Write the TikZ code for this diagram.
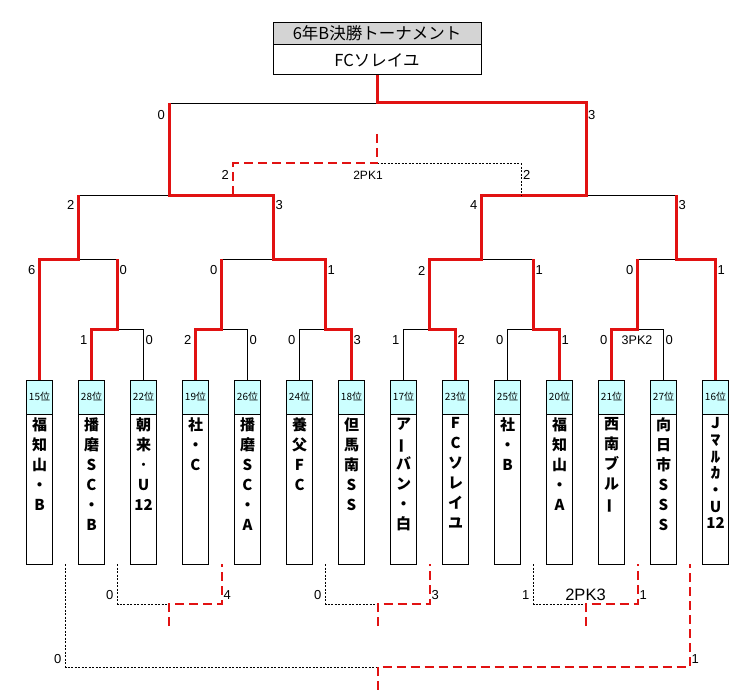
\documentclass[tikz,border=0pt]{standalone}
\usepackage{fontspec}
\usepackage{graphicx}
\setmainfont{Liberation Sans}
\newfontfamily\jp{Noto Sans CJK JP}
\usetikzlibrary{positioning}
\definecolor{winred}{RGB}{225,18,18}
\definecolor{rankcyan}{RGB}{204,255,255}
\definecolor{headgray}{RGB}{212,212,212}
\newcommand{\tbar}{\rotatebox[origin=c]{90}{ー}}
\newcommand{\hkana}[1]{\scalebox{1.3}[1]{#1}}

\begin{document}
\begin{tikzpicture}[x=1pt,y=-1pt,
  win/.style={winred,line width=3pt},
  lose/.style={black,line width=0.9pt},
  pkwin/.style={winred,line width=2pt,dash pattern=on 9pt off 5pt},
  pklose/.style={black,line width=0.7pt,dash pattern=on 2pt off 1.5pt},
  elbow/.style={to path={|- (\tikztotarget)}},
  titlehead/.style={draw,line width=0.8pt,fill=headgray,minimum width=208pt,minimum height=22pt,inner sep=0pt,font=\jp\fontsize{16.5}{16.5}\selectfont},
  titlebody/.style={draw,line width=0.8pt,minimum width=208pt,minimum height=30pt,inner sep=0pt,font=\jp\fontsize{16.5}{16.5}\selectfont},
  rankbox/.style={draw,line width=0.8pt,fill=rankcyan,minimum width=26pt,minimum height=34pt,inner sep=0pt,font=\jp\fontsize{10}{10}\selectfont},
  teambox/.style={draw,line width=0.8pt,minimum width=26pt,minimum height=150pt,inner sep=0pt},
  teamtext/.style={align=center,inner sep=0pt,font=\jp\bfseries\fontsize{15}{20}\selectfont},
  lscore/.style={anchor=east,inner sep=0pt,xshift=-4pt,font=\fontsize{13}{13}\selectfont},
  rscore/.style={anchor=west,inner sep=0pt,xshift=2pt,font=\fontsize{13}{13}\selectfont},
  pklabel/.style={inner sep=0pt,font=\fontsize{12}{12}\selectfont},
]
\useasboundingbox (0,0) rectangle (755,690);

% title
\node[titlehead] (head) at (377,33) {6年B決勝トーナメント};
\node[titlebody,below=0pt of head] (title) {FCソレイユ};

% teams
\foreach \i/\rank/\team in {
  1/15/{福\\知\\山\\・\\B},
  2/28/{播\\磨\\S\\C\\・\\B},
  3/22/{朝\\来\\･\\U\\12},
  4/19/{社\\・\\C},
  5/26/{播\\磨\\S\\C\\・\\A},
  6/24/{養\\父\\F\\C},
  7/18/{但\\馬\\南\\S\\S},
  8/17/{ア\\\tbar\\バ\\ン\\・\\白},
  9/23/{F\\C\\ソ\\レ\\イ\\ユ},
  10/25/{社\\・\\B},
  11/20/{福\\知\\山\\・\\A},
  12/21/{西\\南\\ブ\\ル\\\tbar},
  13/27/{向\\日\\市\\S\\S\\S},
  14/16/{J\\[-3.3pt]\hkana{ﾏ}\\[-3.3pt]\hkana{ﾙ}\\[-3.3pt]\hkana{ｶ}\\[-3.3pt]・\\[-3.3pt]U\\[-3.3pt]12}}{
  \node[rankbox] (h\i) at ({39.5+52*(\i-1)},397) {\rank 位};
  \node[teambox,below=0pt of h\i] (t\i) {};
  \node[teamtext,below=3pt of h\i.south] {\team};
  \coordinate (g\i) at ({65.5+52*(\i-1)},564);
}

% junctions
\foreach \n/\x in {1/117.5,2/221.5,3/325.5,4/429.5,5/533.5,6/637.5}
  \coordinate (r\n) at (\x,329);
\foreach \n/\x in {1/78.5,2/273.5,3/481.5,4/676.5}
  \coordinate (q\n) at (\x,259);
\coordinate (s1) at (169,195);
\coordinate (s2) at (586,195);
\coordinate (f) at (377,103);

\path[lose] (h3.north) edge[elbow] (r1)
            (h5.north) edge[elbow] (r2)
            (h6.north) edge[elbow] (r3)
            (h8.north) edge[elbow] (r4)
            (h10.north) edge[elbow] (r5)
            (h13.north) edge[elbow] (r6)
            (r1|-q1) edge (q1)
            (r2|-q2) edge (q2)
            (r5|-q3) edge (q3)
            (r6|-q4) edge (q4)
            (q1|-s1) edge (s1)
            (q4|-s2) edge (s2)
            (s1|-f) edge (f);

\draw[win] (title.south) -- (f) -| (s2) -| (q3) -| (r4) -| (h9.north);
\draw[win] (h7.north) |- (r3) |- (q2) |- (s1) -- (s1|-f);
\draw[win] (h1.north) |- (q1) -- (q1|-s1);
\draw[win] (h2.north) |- (r1) -- (r1|-q1);
\draw[win] (h4.north) |- (r2) -- (r2|-q2);
\draw[win] (h11.north) |- (r5) -- (r5|-q3);
\draw[win] (h12.north) |- (r6) -- (r6|-q4);
\draw[win] (h14.north) |- (q4) -- (q4|-s2);

% PK1
\coordinate (k) at (377,163.5);
\coordinate (ke) at (377,134);
\coordinate (kl) at (233,195);
\coordinate (kr) at (521,195);
\draw[pklose] (k) -| (kr);
\draw[pkwin] (ke) -- (k) -| (kl);

% lower places
\foreach \n/\x/\y in {1/169/604,2/377.5/604,3/585.5/604,4/377.5/667}
  \coordinate (p\n) at (\x,\y);
\foreach \n/\x/\y in {1/169/626,2/377.5/626,3/585.5/626,4/377.5/690}
  \coordinate (e\n) at (\x,\y);
\draw[pklose] (g2) |- (p1);
\draw[pklose] (g6) |- (p2);
\draw[pklose] (g10) |- (p3);
\draw[pklose] (g1) |- (p4);
\draw[pkwin] (e1) -- (p1) -| (g4);
\draw[pkwin] (e2) -- (p2) -| (g8);
\draw[pkwin] (e3) -- (p3) -| (g12);
\draw[pkwin] (e4) -- (p4) -| (g13);

% scores
\foreach \x/\s in {91.5/1,195.5/2,299.5/0,403.5/1,507.5/0,611.5/0}
  \node[lscore] at (\x,340) {\s};
\foreach \x/\s in {143.5/0,247.5/0,351.5/3,455.5/2,559.5/1,663.5/0}
  \node[rscore] at (\x,340) {\s};
\foreach \x/\s in {39.5/6,221.5/0,429.5/2,637.5/0}
  \node[lscore] at (\x,270.5) {\s};
\foreach \x/\s in {117.5/0,325.5/1,533.5/1,715.5/1}
  \node[rscore] at (\x,270.5) {\s};
\foreach \x/\s in {78.5/2,481.5/4}
  \node[lscore] at (\x,205) {\s};
\foreach \x/\s in {273.5/3,676.5/3}
  \node[rscore] at (\x,205) {\s};
\node[lscore] at (169,115) {0};
\node[rscore] at (586,115) {3};
\node[lscore] at (233,175) {2};
\node[rscore] at (521,175) {2};
\foreach \x/\s in {117.5/0,325.5/0,533.5/1}
  \node[lscore] at (\x,595) {\s};
\foreach \x/\s in {221.5/4,429.5/3,637.5/1}
  \node[rscore] at (\x,595) {\s};
\node[lscore] at (65.5,659.5) {0};
\node[rscore] at (689.5,659.5) {1};

\node[pklabel] at (368,175) {2PK1};
\node[pklabel,font=\fontsize{12.5}{12.5}\selectfont] at (637,340) {3PK2};
\node[pklabel,font=\fontsize{16.5}{16.5}\selectfont] at (585.5,595) {2PK3};
\end{tikzpicture}
\end{document}
